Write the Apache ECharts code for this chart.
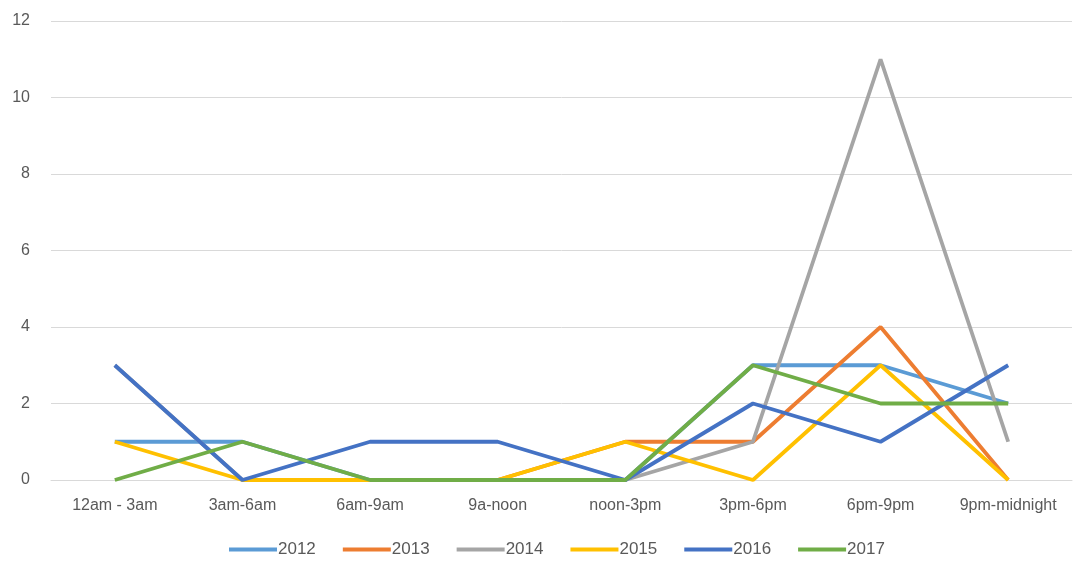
<!DOCTYPE html>
<html>
<head>
<meta charset="utf-8">
<script src="https://cdn.jsdelivr.net/npm/echarts@6/dist/echarts.min.js"></script>
<style>
  html, body { margin: 0; padding: 0; background: #fff; }
  #chart { width: 1080px; height: 569px; }
</style>
</head>
<body>
<div id="chart"></div>
<script>
// time slots on the x axis
var categories = ["12am - 3am", "3am-6am", "6am-9am", "9a-noon", "noon-3pm", "3pm-6pm", "6pm-9pm", "9pm-midnight"];
var years = ["2012", "2013", "2014", "2015", "2016", "2017"];
// values per year (null = no point drawn)
var v2012 = [1, 1, 0, 0, 0, 3, 3, 2];
var v2013 = [null, 0, 0, 0, 1, 1, 4, 0];
var v2014 = [3, 0, 0, 0, 0, 1, 11, 1];
var v2015 = [1, 0, 0, 0, 1, 0, 3, 0];
var v2016 = [3, 0, 1, 1, 0, 2, 1, 3];
var v2017 = [0, 1, 0, 0, 0, 3, 2, 2];
var seriesValues = [v2012, v2013, v2014, v2015, v2016, v2017];

var colors = ["#5B9BD5", "#ED7D31", "#A5A5A5", "#FFC000", "#4472C4", "#70AD47"];

var myChart = echarts.init(document.getElementById("chart"));
var option = {
  color: colors,
  textStyle: { fontFamily: "Liberation Sans" },
  grid: { left: 51, right: 8, top: 21, bottom: 89 },
  legend: {
    bottom: 6,
    left: 224,
    itemWidth: 48,
    itemHeight: 4,
    itemGap: 27,
    icon: "rect",
    textStyle: { color: "#595959", fontSize: 17, padding: [0, 0, 0, -4] },
    data: years
  },
  xAxis: {
    type: "category",
    data: categories,
    boundaryGap: true,
    axisLine: { lineStyle: { color: "#D9D9D9" } },
    axisTick: { show: false },
    axisLabel: { color: "#595959", fontSize: 16, margin: 18, interval: 0 }
  },
  yAxis: {
    type: "value",
    min: 0,
    max: 12,
    interval: 2,
    axisLine: { show: false },
    axisTick: { show: false },
    axisLabel: { color: "#595959", fontSize: 16, margin: 21 },
    splitLine: { lineStyle: { color: "#D9D9D9" } }
  },
  series: years.map(function (y, i) {
    return {
      name: y,
      type: "line",
      data: seriesValues[i],
      symbol: "none",
      connectNulls: false,
      lineStyle: { width: 3.8 },
      animation: false
    };
  })
};
myChart.setOption(option);
</script>
</body>
</html>
